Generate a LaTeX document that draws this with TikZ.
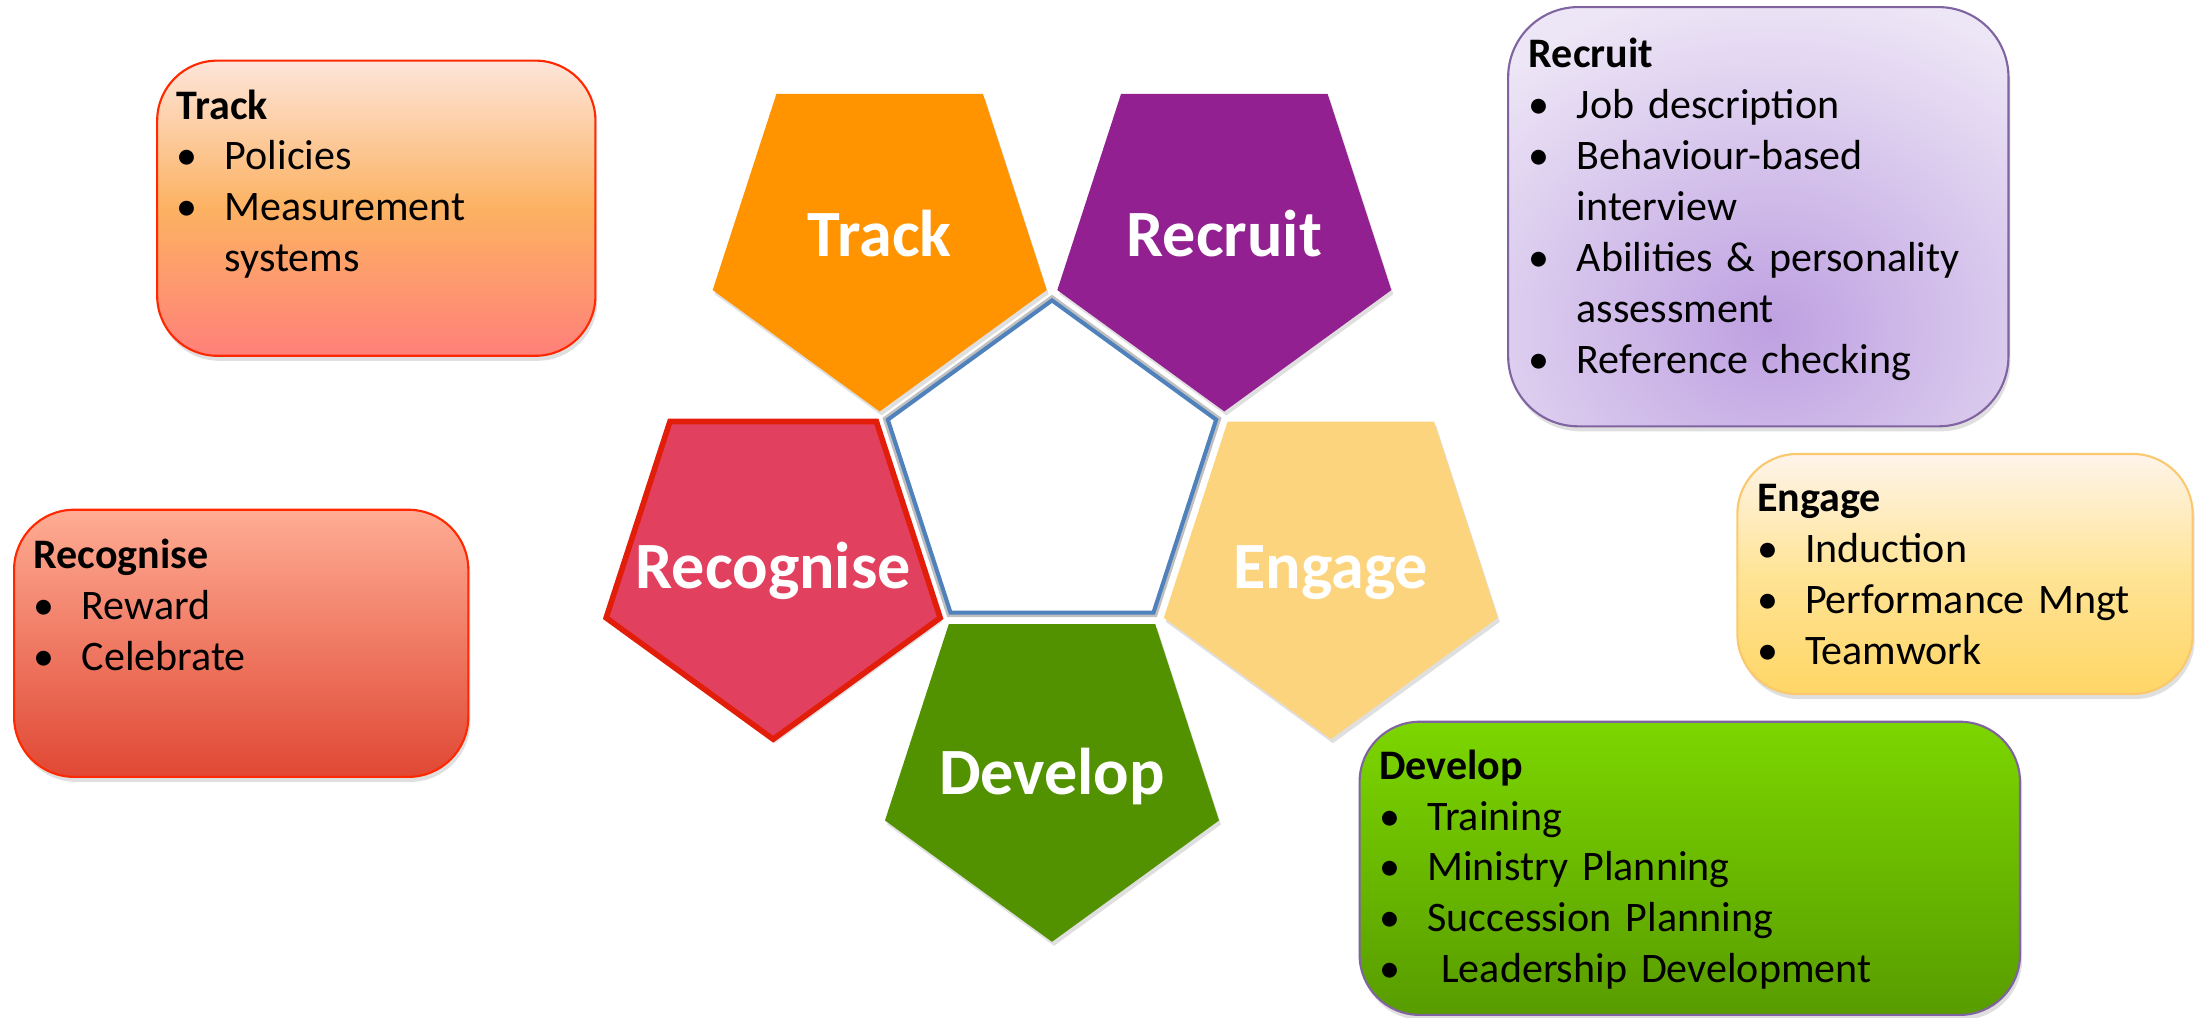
\documentclass[tikz,border=0pt]{standalone}
\usepackage{fontspec}
\setmainfont{Carlito}
\usetikzlibrary{positioning, shapes.geometric, shadows, calc}

\newcommand{\pentsize}{3.51cm}
\newcommand{\coresize}{3.45cm}
\newcommand{\petaldist}{2.93cm}
\newcommand{\pitem}[1]{\makebox[0.48cm][l]{\textbullet}#1}
\newcommand{\pcont}[1]{\hspace*{0.48cm}#1}

\definecolor{trackorange}{RGB}{255,148,0}
\definecolor{recruitpurple}{RGB}{146,32,144}
\definecolor{recognisepink}{RGB}{225,64,94}
\definecolor{recogniseline}{RGB}{226,30,10}
\definecolor{engagegold}{RGB}{253,212,126}
\definecolor{developgreen}{RGB}{82,145,0}
\definecolor{coreblue}{RGB}{79,129,189}
\definecolor{cardred}{RGB}{255,40,0}
\definecolor{cardviolet}{RGB}{128,100,162}
\definecolor{cardgold}{RGB}{250,200,110}
\definecolor{tracktop}{RGB}{253,229,218}
\definecolor{trackmid}{RGB}{252,178,98}
\definecolor{trackbottom}{RGB}{255,128,122}
\definecolor{recogtop}{RGB}{255,172,148}
\definecolor{recogbottom}{RGB}{224,72,52}
\definecolor{engagetop}{RGB}{254,244,234}
\definecolor{engagemid}{RGB}{255,228,150}
\definecolor{engagebottom}{RGB}{255,214,102}
\definecolor{devtop}{RGB}{124,214,0}
\definecolor{devbottom}{RGB}{88,156,0}
\definecolor{recruitbase}{RGB}{237,230,246}
\definecolor{recruitglow}{RGB}{190,160,225}

\tikzstyle{petal} = [% outer pentagon
  regular polygon,
  regular polygon sides=5,
  shape border rotate=180,
  minimum size=\pentsize,
  inner sep=0pt,
  drop shadow={shadow xshift=0.02cm, shadow yshift=-0.04cm, opacity=0.25}
  ]
\tikzstyle{petallabel} = [% white word on a pentagon
  inner sep=0pt,
  text=white,
  font=\fontsize{18.8}{22}\selectfont\bfseries,
  text height=12pt,
  text depth=0pt
  ]
\tikzstyle{corepent} = [% centre pentagon
  regular polygon,
  regular polygon sides=5,
  minimum size=\coresize,
  inner sep=0pt,
  fill=white,
  draw=coreblue,
  line width=1.15pt,
  preaction={draw=black!25, line width=2.6pt}
  ]
\tikzstyle{card} = [% rounded list box
  rectangle,
  rounded corners=0.6cm,
  inner sep=0pt,
  line width=0.6pt,
  drop shadow={shadow xshift=0.02cm, shadow yshift=-0.05cm, opacity=0.25}
  ]
\tikzstyle{cardtext} = [% list inside a box
  anchor=base west,
  inner sep=0pt,
  text width=6cm,
  align=left,
  font=\fontsize{11.95}{14.5}\selectfont
  ]
\tikzstyle{recruitfill} = [% lilac box with glow
  draw=cardviolet,
  fill=recruitbase,
  path picture={\shade[inner color=recruitglow, outer color=recruitbase]
    ([shift={(0.12cm,-1.1cm)}]path picture bounding box.center)
    ellipse [x radius=4cm, y radius=3.4cm];}
  ]

\begin{document}
\begin{tikzpicture}[x=0.01cm, y=0.01cm]
\useasboundingbox (0,0) rectangle (2202,-1017);

%%% Pentagons
\node[corepent] (hub) at (1052,-473) {};
\node[petal, fill=trackorange] (track) at ($(hub)+(126:\petaldist)$) {};
\node[petal, fill=recruitpurple] (recruit) at ($(hub)+(54:\petaldist)$) {};
\node[petal, fill=recognisepink, draw=recogniseline, line width=1.6pt] (recognise) at ($(hub)+(198:\petaldist)$) {};
\node[petal, fill=engagegold] (engage) at ($(hub)+(-18:\petaldist)$) {};
\node[petal, fill=developgreen] (develop) at ($(hub)+(270:\petaldist)$) {};

\node[petallabel] (tracklabel) at (track) {Track};
\node[petallabel] (recruitlabel) at (recruit) {Recruit};
\node[petallabel] (recogniselabel) at ([yshift=-0.04cm]recognise.center) {Recognise};
\node[petallabel] (engagelabel) at ([yshift=-0.04cm]engage.center) {Engage};
\node[petallabel] (developlabel) at ([yshift=-0.07cm]develop.center) {Develop};

%%% Boxes
\node[card, draw=cardred, top color=tracktop, bottom color=trackbottom, middle color=trackmid,
  minimum width=4.38cm, minimum height=2.95cm] (trackcard) at (376.3,-208.2) {};
\node[card, recruitfill, rounded corners=0.7cm,
  minimum width=5cm, minimum height=4.19cm] (recruitcard) at (1758.3,-216.7) {};
\node[card, draw=cardred, top color=recogtop, bottom color=recogbottom,
  minimum width=4.54cm, minimum height=2.67cm] (recognisecard) at (241.2,-643.3) {};
\node[card, draw=cardgold, top color=engagetop, bottom color=engagebottom, middle color=engagemid,
  minimum width=4.55cm, minimum height=2.4cm] (engagecard) at (1965,-574) {};
\node[card, draw=cardviolet, top color=devtop, bottom color=devbottom,
  minimum width=6.6cm, minimum height=2.93cm] (developcard) at (1689.8,-868.3) {};

%%% Lists
\node[cardtext] (tracklist) at ([xshift=0.2cm, yshift=-0.594cm]trackcard.north west)
  {\textbf{Track}\\ \pitem{Policies}\\ \pitem{Measurement}\\ \pcont{systems}};
\node[cardtext] (recruitlist) at ([xshift=0.21cm, yshift=-0.61cm]recruitcard.north west)
  {\textbf{Recruit}\\ \pitem{Job description}\\ \pitem{Behaviour-based}\\ \pcont{interview}\\
   \pitem{Abilities \& personality}\\ \pcont{assessment}\\ \pitem{Reference checking}};
\node[cardtext] (recogniselist) at ([xshift=0.2cm, yshift=-0.6cm]recognisecard.north west)
  {\textbf{Recognise}\\ \pitem{Reward}\\ \pitem{Celebrate}};
\node[cardtext] (engagelist) at ([xshift=0.2cm, yshift=-0.587cm]engagecard.north west)
  {\textbf{Engage}\\ \pitem{Induction}\\ \pitem{Performance Mngt}\\ \pitem{Teamwork}};
\node[cardtext] (developlist) at ([xshift=0.2cm, yshift=-0.583cm]developcard.north west)
  {\textbf{Develop}\\ \pitem{Training}\\ \pitem{Ministry Planning}\\ \pitem{Succession Planning}\\
   \pitem{\ Leadership Development}};

\end{tikzpicture}
\end{document}
